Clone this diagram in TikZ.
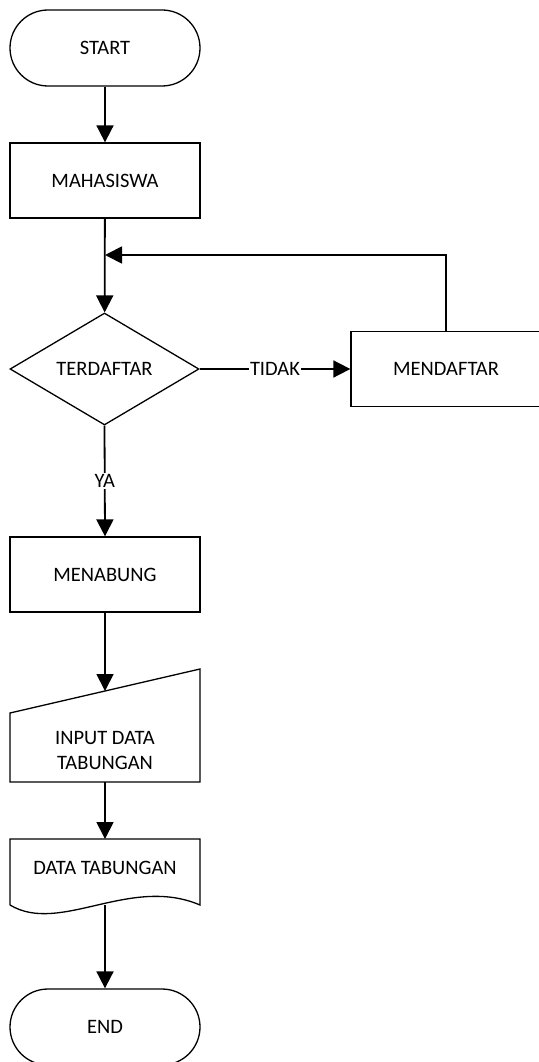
\documentclass[tikz,border=0pt]{standalone}
\usepackage{fontspec}
\setmainfont{Carlito}
\usetikzlibrary{arrows.meta,shapes.geometric}
\begin{document}
\begin{tikzpicture}[x=1pt,y=-1pt,
  every node/.style={font=\fontsize{20.5}{25}\selectfont},
  shape line/.style={draw=black,line width=1.3pt},
  process/.style={shape line,rectangle,minimum width=190pt,minimum height=75pt,inner sep=0pt},
  terminal/.style={shape line,rectangle,rounded corners=38pt,minimum width=190pt,minimum height=76pt,inner sep=0pt},
  decision/.style={shape line,diamond,shape aspect=1.69,minimum width=189pt,minimum height=112pt,inner sep=0pt},
  flow/.style={line width=1.8pt,-{Triangle[length=17pt,width=17pt]}},
  plain/.style={line width=1.8pt},
  tag/.style={fill=white,inner sep=1pt}]
\useasboundingbox (0,0) rectangle (538,1062);

% main column
\node[terminal] (start) at (105,48) {START};
\node[process] (mhs) at (105,180.5) {MAHASISWA};
\node[decision] (cek) at (104.5,369) {TERDAFTAR};
\node[process] (daftar) at (446,369) {MENDAFTAR};
\node[process] (tabung) at (105,574.5) {MENABUNG};

% manual input
\draw[shape line] (10,713) -- (200,669) -- (200,782) -- (10,782) -- cycle;
\node[align=center] (input) at (105,750) {INPUT DATA\\TABUNGAN};
\coordinate (inTop) at (105,691);
\coordinate (inBot) at (105,782);

% document
\draw[shape line] (10,905) -- (10,839) -- (200,839) -- (200,905)
  .. controls (130,875) and (60,935) .. (10,905);
\node (doc) at (105,868) {DATA TABUNGAN};
\coordinate (docTop) at (105,839);
\coordinate (docBot) at (105,905);

\node[terminal] (end) at (105,1027) {END};

% connectors
\draw[flow] (start) -- (mhs);
\coordinate (join) at (105,255);
\draw[flow] (mhs) -- (cek);
\draw[flow] (daftar.north) |- (join);
\draw[flow] (cek.east) -- (daftar.west) node[tag,pos=0.5] (tidak) {TIDAK};
\draw[flow] (cek.south) -- (tabung.north) node[tag,pos=0.5] (ya) {YA};
\draw[flow] (tabung.south) -- (inTop);
\draw[flow] (inBot) -- (docTop);
\draw[flow] (docBot) -- (end.north);
\end{tikzpicture}
\end{document}
